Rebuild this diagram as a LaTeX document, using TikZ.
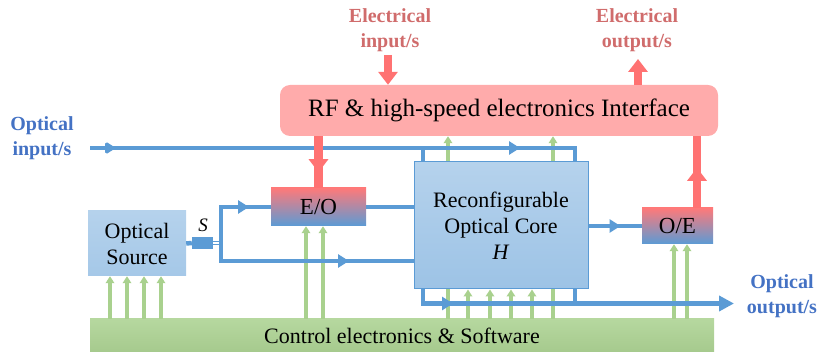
\documentclass[tikz,border=0pt]{standalone}
\usepackage{fontspec}
\setmainfont{Liberation Serif}
\usetikzlibrary{arrows.meta, decorations.markings, positioning}

\definecolor{optblue}{HTML}{5B9BD5}
\definecolor{opttext}{HTML}{4472C4}
\definecolor{elred}{HTML}{FF7272}
\definecolor{eltext}{HTML}{D06C6C}
\definecolor{rffill}{HTML}{FFABAB}
\definecolor{ctlgreen}{HTML}{A9D18E}

\begin{document}
\begin{tikzpicture}[
    x=1pt, y=-1pt,
    font=\fontsize{22}{26}\selectfont,
    optline/.style={draw=optblue, line width=4.5pt},
    elline/.style={draw=elred, line width=8.5pt},
    ctlline/.style={draw=ctlgreen, line width=3.5pt, -{Triangle[length=7pt,width=8.5pt]}},
    bltip/.style={postaction={decorate}, decoration={markings,
        mark=at position #1 with {\arrow[optblue]{Triangle[length=11pt,width=13pt]}}}},
    rdtip/.style={postaction={decorate}, decoration={markings,
        mark=at position #1 with {\arrow[elred]{Triangle[length=13pt,width=19pt]}}}},
    lbl/.style={align=center, font=\fontsize{20}{25}\selectfont\bfseries},
    blk/.style={inner sep=0pt, align=center}
]

\useasboundingbox (0,0) rectangle (820,352);

% --- HINTERGRUND-BLOECKE ---
\node[blk, fill=rffill, rounded corners=10pt, minimum width=438pt, minimum height=51pt,
      font=\fontsize{25}{30}\selectfont] (rf) at (499,110.5) {RF \& high-speed electronics Interface};
\node[blk, top color=ctlgreen!85!white, bottom color=ctlgreen!95!black!95, minimum width=624pt,
      minimum height=34pt] (ctrl) at (402,336) {Control electronics \& Software};

% Steuerleitungen hinter dem Kern bis zum Interface
\foreach \gx in {448,553}
  \draw[ctlline] (\gx,0 |- ctrl.north) -- (\gx,0 |- rf.south);

% --- BLOECKE ---
\node[blk, draw=optblue, line width=1pt, top color=optblue!45!white, bottom color=optblue!60!white,
      minimum width=174pt, minimum height=127pt] (core) at (501,225.5)
      {Reconfigurable\\Optical Core\\\textit{H}};
\node[blk, top color=optblue!45!white, bottom color=optblue!55!white,
      minimum width=98pt, minimum height=65pt] (src) at (137,243.5) {Optical\\Source};
\node[blk, top color=elred!95!white, middle color=optblue!50!white, bottom color=optblue,
      minimum width=95pt, minimum height=38pt, font=\fontsize{23}{26}\selectfont] (eo) at (318.5,207) {E/O};
\node[blk, top color=elred!95!white, middle color=optblue!50!white, bottom color=optblue,
      minimum width=71pt, minimum height=36pt, font=\fontsize{23}{26}\selectfont] (oe) at (677.5,226) {O/E};
\node[blk, fill=optblue, minimum width=21pt, minimum height=12pt] (spl) at (202.5,243) {};
\node[font=\fontsize{19}{22}\selectfont] (slbl) at (203,225) {\textit{S}};

% --- STEUERUNG (gruen) ---
\foreach \gx in {110,127,144,161} \draw[ctlline] (\gx,0 |- ctrl.north) -- (\gx,0 |- src.south);
\foreach \gx in {306,323} \draw[ctlline] (\gx,0 |- ctrl.north) -- (\gx,0 |- eo.south);
\foreach \gx in {468,490,511,532} \draw[ctlline] (\gx,0 |- ctrl.north) -- (\gx,0 |- core.south);
\foreach \gx in {674,687} \draw[ctlline] (\gx,0 |- ctrl.north) -- (\gx,0 |- oe.south);

% --- OPTISCHE PFADE (blau) ---
\coordinate (oin-a) at (90,148);
\coordinate (spl-out) at (221,243);
\coordinate (cout-a) at (423,0 |- core.south);
\coordinate (cout-b) at (575,0 |- core.south);
\coordinate (oout-tip) at (734,303.5);

\draw[optline, miter limit=2, bltip=26pt] (oin-a) -- (424,148);
\draw[optline, bltip=98pt] (422,148) -| (cout-b |- core.north);
\draw[optline] (423,148) -- (cout-a |- core.north);

\draw[optline] (src.east) -- (spl.west);
\draw[draw=optblue, line width=1.8pt, double=white, double distance=1.2pt] (spl.east) -- (223,243);
\draw[optline, bltip=66pt] (spl-out |- 0,245) |- (eo.west);
\draw[optline, bltip=148pt] (spl-out |- 0,241) |- (core.west |- 0,261);
\draw[optline] (eo.east) -- (eo.east -| core.west);
\draw[optline, bltip=32pt] (core.east |- oe.west) -- (oe.west);

\draw[optline, -{Triangle[length=15pt,width=15pt]}, bltip=44pt] (cout-a) |- (oout-tip);
\draw[optline] (cout-b) -- (cout-b |- oout-tip);

% --- ELEKTRISCHE PFADE (rot) ---
\coordinate (ein-a) at (388,55);
\coordinate (eout-a) at (638,59);
\coordinate (oe-up) at ([xshift=19.5pt]oe.north);

\draw[elline, -{Triangle[length=13pt,width=19pt]}] (ein-a) -- (ein-a |- rf.north);
\draw[elline, -{Triangle[length=13pt,width=19pt]}] (eout-a |- rf.north) -- (eout-a);
\draw[elline, rdtip=36pt] (eo.north |- rf.south) -- (eo.north);
\draw[elline, rdtip=40pt] (oe-up) -- (oe-up |- rf.south);

% --- BESCHRIFTUNGEN ---
\node[lbl, text=eltext] (ein) at (390,30) {Electrical\\input/s};
\node[lbl, text=eltext] (eout) at (637,30) {Electrical\\output/s};
\node[lbl, text=opttext] (oin) at (42,138) {Optical\\input/s};
\node[lbl, text=opttext] (oout) at (782,296) {Optical\\output/s};

\end{tikzpicture}
\end{document}
